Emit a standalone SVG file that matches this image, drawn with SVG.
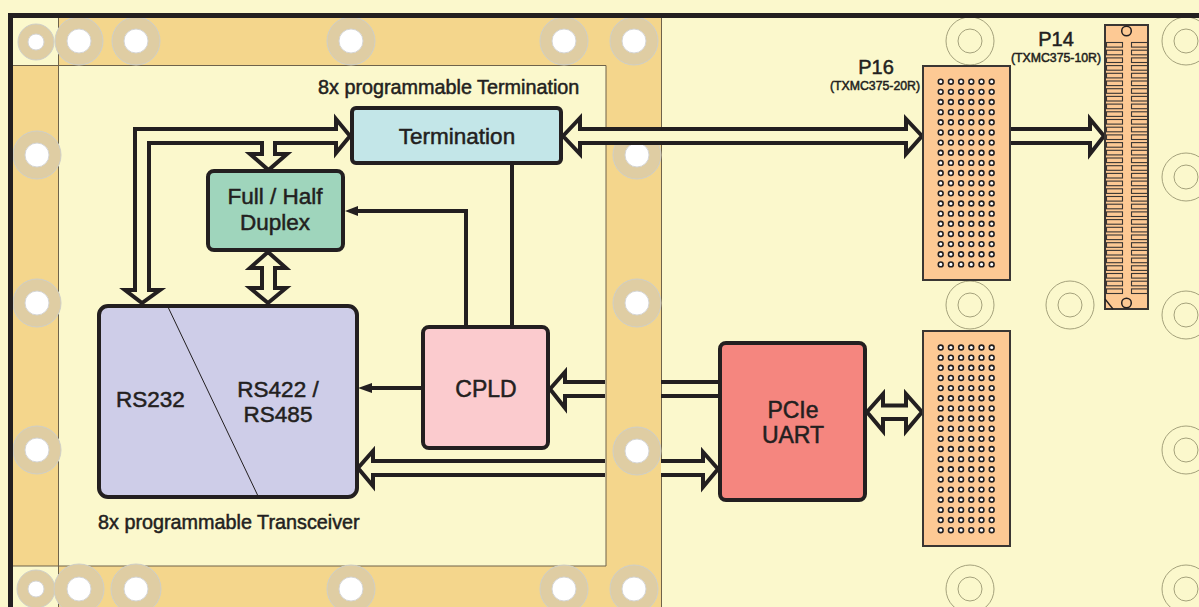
<svg xmlns="http://www.w3.org/2000/svg" width="1199" height="607" viewBox="0 0 1199 607">
<style>
.ln{stroke:#6f634a;stroke-width:1;fill:none}
.ring{fill:#dfcda3;stroke:#cfcfc8;stroke-width:1}
.hole{fill:#fff;stroke:#d5d5d5;stroke-width:1}
.oring{fill:none;stroke:#a5a27c;stroke-width:1}
.node{stroke:#231f20;stroke-width:4}
.w{stroke:#231f20;stroke-width:4;fill:none;stroke-linejoin:miter}
.b{stroke:#231f20;stroke-width:4;fill:#fbf8cc;stroke-linejoin:miter}
.tip{fill:#231f20;stroke:none}
.conn{fill:#fdc994;stroke:#3a3633;stroke-width:2}
.dot{fill:#fff;stroke:#231f20;stroke-width:1.600}
.pad{fill:#fdc994;stroke:#3a3633;stroke-width:1.100}
text{font-family:"Liberation Sans",Arial,sans-serif;fill:#231f20;stroke:#231f20;stroke-width:.5}
.m{text-anchor:middle}
</style>
<defs>
<g id="dotrow"><circle class="dot" cx="0" cy="0" r="2.400"/><circle class="dot" cx="10.200" cy="0" r="2.400"/><circle class="dot" cx="20.400" cy="0" r="2.400"/><circle class="dot" cx="30.600" cy="0" r="2.400"/><circle class="dot" cx="40.800" cy="0" r="2.400"/><circle class="dot" cx="51" cy="0" r="2.400"/></g>
<g id="dots">
<use href="#dotrow" y="0"/><use href="#dotrow" y="10.150"/><use href="#dotrow" y="20.300"/><use href="#dotrow" y="30.450"/><use href="#dotrow" y="40.600"/><use href="#dotrow" y="50.750"/><use href="#dotrow" y="60.900"/><use href="#dotrow" y="71.050"/><use href="#dotrow" y="81.200"/><use href="#dotrow" y="91.350"/><use href="#dotrow" y="101.500"/><use href="#dotrow" y="111.650"/><use href="#dotrow" y="121.800"/><use href="#dotrow" y="131.950"/><use href="#dotrow" y="142.100"/><use href="#dotrow" y="152.250"/><use href="#dotrow" y="162.400"/><use href="#dotrow" y="172.550"/><use href="#dotrow" y="182.700"/>
</g>
<g id="padrow"><rect class="pad" x="1106.500" y="0" width="16" height="4.600"/><rect class="pad" x="1131.500" y="0" width="16" height="4.600"/></g>
</defs>

<rect id="board" x="0" y="0" width="1199" height="607" fill="#fbf8cc"/>
<g id="bands">
<rect x="58" y="18" width="603" height="48" fill="#f4d68c"/>
<rect x="13" y="66" width="45" height="500" fill="#f4d68c"/>
<rect x="606" y="66" width="55" height="500" fill="#f4d68c"/>
<rect x="58" y="566" width="603" height="41" fill="#f4d68c"/>
<path class="ln" d="M58.500 18V607M13 65.500H606V566H13M661.500 18V607"/>
</g>
<g id="holes">
<circle class="ring" cx="36" cy="42" r="18"/><circle class="hole" cx="36" cy="42" r="8"/>
<circle class="ring" cx="79" cy="41" r="24"/><circle class="hole" cx="79" cy="41" r="12"/>
<circle class="ring" cx="136" cy="41" r="24"/><circle class="hole" cx="136" cy="41" r="12"/>
<circle class="ring" cx="351" cy="41" r="24"/><circle class="hole" cx="351" cy="41" r="12"/>
<circle class="ring" cx="564" cy="41" r="24"/><circle class="hole" cx="564" cy="41" r="12"/>
<circle class="ring" cx="634" cy="41" r="24"/><circle class="hole" cx="634" cy="41" r="12"/>
<circle class="ring" cx="37" cy="155" r="24"/><circle class="hole" cx="37" cy="155" r="12"/>
<circle class="ring" cx="37" cy="303" r="24"/><circle class="hole" cx="37" cy="303" r="12"/>
<circle class="ring" cx="37" cy="450" r="24"/><circle class="hole" cx="37" cy="450" r="12"/>
<circle class="ring" cx="637" cy="155" r="24"/><circle class="hole" cx="637" cy="155" r="12"/>
<circle class="ring" cx="637" cy="303" r="24"/><circle class="hole" cx="637" cy="303" r="12"/>
<circle class="ring" cx="637" cy="451" r="24"/><circle class="hole" cx="637" cy="451" r="12"/>
<circle class="ring" cx="36" cy="589" r="19"/><circle class="hole" cx="36" cy="589" r="8"/>
<circle class="ring" cx="79" cy="589" r="25"/><circle class="hole" cx="79" cy="589" r="12"/>
<circle class="ring" cx="136" cy="589" r="25"/><circle class="hole" cx="136" cy="589" r="12"/>
<circle class="ring" cx="351" cy="589" r="24"/><circle class="hole" cx="351" cy="589" r="12"/>
<circle class="ring" cx="564" cy="589" r="24"/><circle class="hole" cx="564" cy="589" r="12"/>
<circle class="ring" cx="634" cy="589" r="24"/><circle class="hole" cx="634" cy="589" r="12"/>
<circle class="oring" cx="970" cy="41" r="24"/><circle class="oring" cx="970" cy="41" r="12"/>
<circle class="oring" cx="1186" cy="41" r="24"/><circle class="oring" cx="1186" cy="41" r="12"/>
<circle class="oring" cx="1186" cy="177" r="24"/><circle class="oring" cx="1186" cy="177" r="12"/>
<circle class="oring" cx="970" cy="305" r="24"/><circle class="oring" cx="970" cy="305" r="12"/>
<circle class="oring" cx="1070" cy="305" r="24"/><circle class="oring" cx="1070" cy="305" r="12"/>
<circle class="oring" cx="1186" cy="315" r="24"/><circle class="oring" cx="1186" cy="315" r="12"/>
<circle class="oring" cx="1186" cy="450" r="24"/><circle class="oring" cx="1186" cy="450" r="12"/>
<circle class="oring" cx="970" cy="589" r="24"/><circle class="oring" cx="970" cy="589" r="12"/>
<circle class="oring" cx="1186" cy="589" r="24"/><circle class="oring" cx="1186" cy="589" r="12"/>
</g>
<path id="frame" d="M8 607V13H1199V18H13V607Z" fill="#231f20"/>

<g id="connectors">
<path class="b" d="M135 290V129H336V119L350 136L336 153V143H275V154H287L268.500 170L250 154H262V143H149V290H160L142 303L125 290Z"/>
<path class="b" d="M268 252L286 268H275V288H286L268 303L250 288H262V268H250Z"/>
<path class="b" d="M563 136L580 118V129H906V119L922 136L906 154V143H580V154Z"/>
<path class="b" d="M1010 129H1090V119L1104 136L1090 154V143H1010"/>
<path class="b" d="M605 382H565V372L550 389L565 408V396H605"/>
<path class="w" d="M661 382H720M661 396H720"/>
<path class="b" d="M605 461H373V451L358 468L373 486V475H605"/>
<path class="b" d="M661 461H703V452L718 469L703 487V475H661"/>
<path class="b" d="M867 412L883 394V405.500H906V394L922 412L906 431V419H883V431Z"/>
<path class="w" d="M423 388H370"/><path class="tip" d="M358 388L372 383V393Z"/>
<path class="w" d="M466 327V211H356"/><path class="tip" d="M345 211L358 206V216Z"/>
<path class="w" d="M512 163V327"/>
</g>

<g id="node-termination">
<rect class="node" x="352" y="108" width="209" height="55" rx="4" fill="#c3e6e8"/>
<text class="m" x="457" y="144" font-size="22.500">Termination</text>
</g>
<g id="node-duplex">
<rect class="node" x="208" y="171" width="135" height="79" rx="6" fill="#9fd5bc"/>
<text class="m" x="275" y="204" font-size="22.500">Full / Half</text>
<text class="m" x="275" y="230" font-size="22.500">Duplex</text>
</g>
<g id="node-transceiver">
<rect class="node" x="99" y="306" width="258" height="191" rx="9" fill="#cecde8"/>
<path d="M168 307L258 496" stroke="#231f20" stroke-width="1" fill="none"/>
<text x="116" y="407" font-size="22.500">RS232</text>
<text class="m" x="278" y="397" font-size="22.500">RS422 /</text>
<text class="m" x="278" y="422" font-size="22.500">RS485</text>
</g>
<g id="node-cpld">
<rect class="node" x="423" y="327" width="125" height="121" rx="6" fill="#fbcbce"/>
<text class="m" x="486" y="397" font-size="23">CPLD</text>
</g>
<g id="node-uart">
<rect class="node" x="720" y="343" width="145" height="157" rx="6" fill="#f5867f"/>
<text class="m" x="793" y="418" font-size="23">PCIe</text>
<text class="m" x="793" y="443" font-size="23">UART</text>
</g>
<g id="node-p16">
<rect class="conn" x="923" y="66" width="87" height="214"/>
<use href="#dots" x="940.700" y="81.700"/>
<text class="m" x="876" y="74" font-size="20">P16</text>
<text class="m" x="875" y="90" font-size="12.300">(TXMC375-20R)</text>
</g>
<g id="node-lower-connector">
<rect class="conn" x="923" y="331" width="87" height="215"/>
<use href="#dots" x="940.700" y="347.500"/>
</g>
<g id="node-p14">
<rect class="conn" x="1105" y="25" width="43" height="284"/>
<use href="#padrow" y="42.500"/><use href="#padrow" y="50.200"/><use href="#padrow" y="57.900"/><use href="#padrow" y="65.600"/><use href="#padrow" y="73.300"/><use href="#padrow" y="81"/><use href="#padrow" y="88.700"/><use href="#padrow" y="96.400"/><use href="#padrow" y="104.100"/><use href="#padrow" y="111.800"/><use href="#padrow" y="119.500"/><use href="#padrow" y="127.200"/><use href="#padrow" y="134.900"/><use href="#padrow" y="142.600"/><use href="#padrow" y="150.300"/><use href="#padrow" y="158"/><use href="#padrow" y="165.700"/><use href="#padrow" y="173.400"/><use href="#padrow" y="181.100"/><use href="#padrow" y="188.800"/><use href="#padrow" y="196.500"/><use href="#padrow" y="204.200"/><use href="#padrow" y="211.900"/><use href="#padrow" y="219.600"/><use href="#padrow" y="227.300"/><use href="#padrow" y="235"/><use href="#padrow" y="242.700"/><use href="#padrow" y="250.400"/><use href="#padrow" y="258.100"/><use href="#padrow" y="265.800"/><use href="#padrow" y="273.500"/><use href="#padrow" y="281.200"/><use href="#padrow" y="288.900"/>
<circle cx="1126.500" cy="31" r="4.800" fill="#fdc994" stroke="#231f20" stroke-width="1.500"/>
<circle cx="1126.500" cy="303" r="4.800" fill="#fdc994" stroke="#231f20" stroke-width="1.500"/>
<path d="M1105 299L1113 309" stroke="#231f20" stroke-width="1.300"/>
<text class="m" x="1056" y="46" font-size="20">P14</text>
<text class="m" x="1056" y="62" font-size="12.300">(TXMC375-10R)</text>
</g>
<g id="labels">
<text x="318" y="94" font-size="19.800">8x programmable Termination</text>
<text x="98" y="529" font-size="19.800">8x programmable Transceiver</text>
</g>
</svg>
